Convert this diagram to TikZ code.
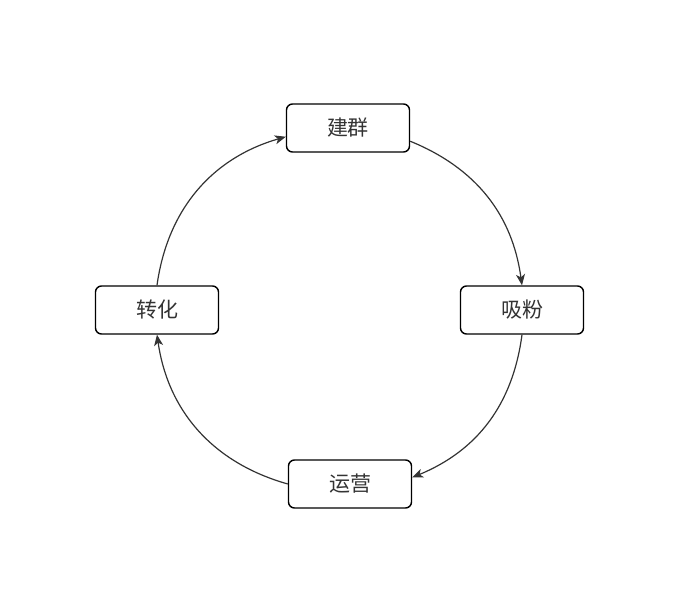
\documentclass[tikz,border=0pt]{standalone}
\usepackage{fontspec}
\setmainfont{Noto Sans CJK SC}
\usepackage{tikz}
\usetikzlibrary{arrows.meta, positioning}
\definecolor{linegray}{HTML}{333333}
\tikzset{
  stagenode/.style = {align=center, inner sep=0pt, text centered,
    font=\fontsize{10.5}{12}\selectfont, text=linegray},
  st/.style = {stagenode, rectangle, rounded corners=3pt, draw=black,
    minimum width=61.5pt, minimum height=24pt, line width=0.7pt},
  flow/.style = {->, draw=linegray, line width=0.6pt}
}
\begin{document}
\begin{tikzpicture}[x=0.5pt, y=-0.5pt, >={Stealth[length=5.5pt, width=4.5pt, inset=1.5pt]}]
\useasboundingbox (0,0) rectangle (698,600);
\node [st] (jq) at (348,128) {建群};
\node [st] (xf) at (522,310) {吸粉};
\node [st] (yy) at (350,484) {运营};
\node [st] (zh) at (157,310) {转化};
\draw [flow] (jq.-12) to [bend left=30] (xf.north);
\draw [flow] (xf.south) to [bend left=30] (yy.6);
\draw [flow] (yy.west) to [bend left=33] (zh.south);
\draw [flow] (zh.north) to [bend left=33] (jq.188);
\end{tikzpicture}
\end{document}
